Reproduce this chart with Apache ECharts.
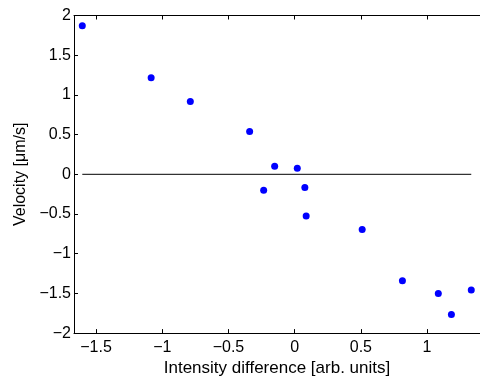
<!DOCTYPE html>
<html>
<head>
<meta charset="utf-8">
<script src="https://cdn.jsdelivr.net/npm/echarts@6/dist/echarts.min.js"></script>
<style>html,body{margin:0;padding:0;background:#fff}#c{width:480px;height:382px}</style>
</head>
<body>
<div id="c"></div>
<script>
// Data
const xValues = [-1.604, -1.084, -0.788, -0.340, -0.151, 0.020, -0.234, 0.077, 0.087, 0.510, 0.814, 1.085, 1.184, 1.334];
const yValues = [1.871, 1.216, 0.916, 0.538, 0.100, 0.075, -0.200, -0.166, -0.525, -0.696, -1.341, -1.500, -1.766, -1.458];
const xTicks = [-1.5, -1, -0.5, 0, 0.5, 1];
const yTicks = [-2, -1.5, -1, -0.5, 0, 0.5, 1, 1.5, 2];
const zeroLine = [[-1.604, 0], [1.334, 0]];

const points = xValues.map((x, i) => [x, yValues[i]]);
const fmt = v => String(v).replace('-', '\u2212');
const font = 'Liberation Sans, Arial, Helvetica, sans-serif';

const chart = echarts.init(document.getElementById('c'), null, {renderer: 'canvas'});
const xMin = -5 / 3, xMax = 1.4;
const axisLine = {show: true, onZero: false, lineStyle: {color: '#000', width: 1}};
chart.setOption({
  animation: false,
  backgroundColor: '#fff',
  grid: {left: 74, top: 15.5, width: 411, height: 320, containLabel: false},
  xAxis: [{
    type: 'value', position: 'bottom', min: xMin, max: xMax,
    axisLine: axisLine,
    axisTick: {show: true, inside: true, length: 4, customValues: xTicks, lineStyle: {color: '#000'}},
    axisLabel: {show: true, customValues: xTicks, formatter: fmt, color: '#000', fontSize: 16, fontFamily: font, margin: 6},
    splitLine: {show: false},
    name: 'Intensity difference [arb. units]', nameLocation: 'middle', nameGap: 24,
    nameTextStyle: {color: '#000', fontSize: 17, fontFamily: font}
  }, {
    type: 'value', position: 'top', min: xMin, max: xMax,
    axisLine: axisLine,
    axisTick: {show: true, inside: true, length: 4, customValues: xTicks, lineStyle: {color: '#000'}},
    axisLabel: {show: false},
    splitLine: {show: false}
  }],
  yAxis: [{
    type: 'value', min: -2, max: 2, interval: 0.5,
    axisLine: axisLine,
    axisTick: {show: true, inside: true, length: 4, lineStyle: {color: '#000'}},
    axisLabel: {show: true, customValues: yTicks, formatter: fmt, color: '#000', fontSize: 16, fontFamily: font, margin: 3},
    splitLine: {show: false},
    name: 'Velocity [\u03bcm/s]', nameLocation: 'middle', nameGap: 44, nameRotate: 90,
    nameTextStyle: {color: '#000', fontSize: 16, fontFamily: font}
  }],
  series: [{
    type: 'line', data: zeroLine, symbol: 'none', silent: true,
    lineStyle: {color: '#000', width: 1}
  }, {
    type: 'scatter', data: points, symbol: 'circle', symbolSize: 7,
    itemStyle: {color: '#0000ff', opacity: 1}
  }]
});
</script>
</body>
</html>
